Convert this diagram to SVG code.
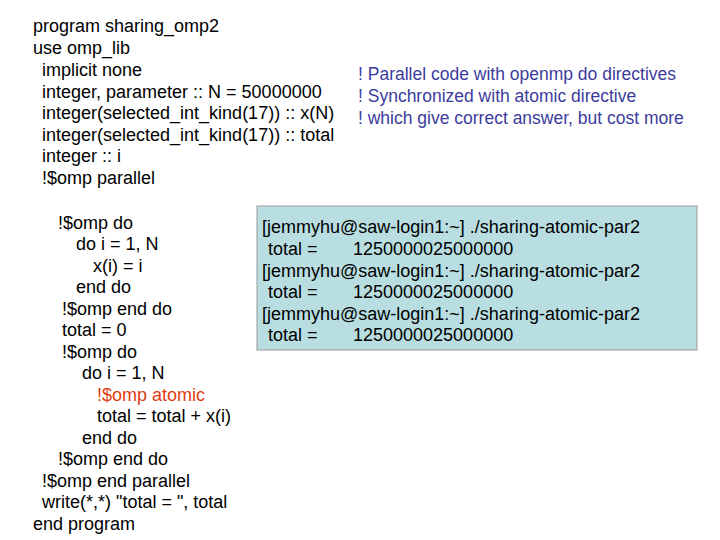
<svg xmlns="http://www.w3.org/2000/svg" width="720" height="540" viewBox="0 0 720 540">
<style>
text{font-family:"Liberation Sans",Arial,sans-serif;font-size:18px;fill:#000}
.c{fill:#3C3C9C;font-size:17.5px}
.r{fill:#E03C14}
</style>
<rect width="720" height="540" fill="#fff"/>
<g id="code">
<text x="33" y="32">program sharing_omp2</text>
<text x="33" y="54">use omp_lib</text>
<text x="42" y="76">implicit none</text>
<text x="42" y="98">integer, parameter :: N = 50000000</text>
<text x="42" y="119">integer(selected_int_kind(17)) :: x(N)</text>
<text x="42" y="141">integer(selected_int_kind(17)) :: total</text>
<text x="42" y="162">integer :: i</text>
<text x="42" y="184">!$omp parallel</text>
<text x="58" y="229">!$omp do</text>
<text x="76" y="250">do i = 1, N</text>
<text x="93" y="272">x(i) = i</text>
<text x="76" y="293">end do</text>
<text x="62" y="315">!$omp end do</text>
<text x="62" y="336">total = 0</text>
<text x="62" y="358">!$omp do</text>
<text x="82" y="379">do i = 1, N</text>
<text x="97" y="401" class="r">!$omp atomic</text>
<text x="97" y="422">total = total + x(i)</text>
<text x="82" y="444">end do</text>
<text x="58" y="465">!$omp end do</text>
<text x="42" y="487">!$omp end parallel</text>
<text x="42" y="508">write(*,*) "total = ", total</text>
<text x="33" y="530">end program</text>
</g>
<g id="comments">
<text x="358" y="80" class="c">! Parallel code with openmp do directives</text>
<text x="358" y="102" class="c">! Synchronized with atomic directive</text>
<text x="358" y="124" class="c">! which give correct answer, but cost more</text>
</g>
<g id="output">
<rect x="257" y="206" width="440" height="144" fill="#B9DEE2" stroke="#999" stroke-width="1"/>
<text x="262" y="233">[jemmyhu@saw-login1:~] ./sharing-atomic-par2</text>
<text x="268" y="255">total =</text><text x="353" y="255">1250000025000000</text>
<text x="262" y="277">[jemmyhu@saw-login1:~] ./sharing-atomic-par2</text>
<text x="268" y="298">total =</text><text x="353" y="298">1250000025000000</text>
<text x="262" y="320">[jemmyhu@saw-login1:~] ./sharing-atomic-par2</text>
<text x="268" y="341">total =</text><text x="353" y="341">1250000025000000</text>
</g>
</svg>
